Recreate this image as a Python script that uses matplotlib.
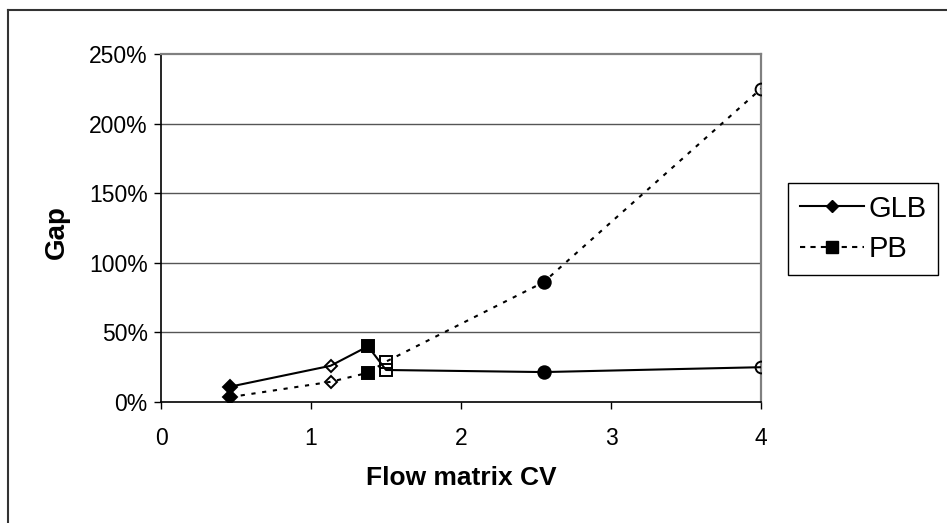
import matplotlib
matplotlib.use("Agg")
import matplotlib.pyplot as plt
from matplotlib.lines import Line2D
from matplotlib.ticker import FuncFormatter

plt.rcParams['font.family'] = ['Liberation Sans', 'DejaVu Sans']

# data
flow_cv = [0.46, 1.13, 1.38, 1.50, 2.55, 4.0]
glb_gap = [11, 26, 40, 23, 21.5, 25]
pb_gap = [3.5, 14.5, 21, 29, 86, 225]
series_names = ['GLB', 'PB']
x_ticks = [0, 1, 2, 3, 4]
y_ticks = [0, 50, 100, 150, 200, 250]

# per-point marker styles (same for both series)
markers = ['D', 'D', 's', 's', 'o', 'o']
filled = [True, False, True, False, True, False]

W, H = 947, 523
fig = plt.figure(figsize=(W / 100, H / 100), dpi=100)

# outer chart border, only top and left are inside the cropped image
fig.add_artist(Line2D([8 / W, 1], [1 - 10 / H, 1 - 10 / H], transform=fig.transFigure,
                      color='#333333', linewidth=1.5))
fig.add_artist(Line2D([8 / W, 8 / W], [0, 1 - 10 / H], transform=fig.transFigure,
                      color='#333333', linewidth=1.5))

ax = fig.add_axes([161 / W, 1 - 402 / H, 600 / W, 348 / H])

lw = 1.5
dash = (0, (2, 3.2))
ax.plot(flow_cv, glb_gap, color='black', linewidth=lw, zorder=3)
ax.plot(flow_cv, pb_gap, color='black', linewidth=lw, linestyle=dash, zorder=3)

sizes_filled = {'D': 7.5, 's': 8.5, 'o': 9}
sizes_hollow = {'D': 6.3, 's': 8.3, 'o': 8.5}
for yvals in (glb_gap, pb_gap):
    for x, y, m, f in zip(flow_cv, yvals, markers, filled):
        size = sizes_filled[m] if f else sizes_hollow[m]
        ax.plot([x], [y], marker=m, markersize=size, linestyle='none',
                markerfacecolor='black' if f else 'none',
                markeredgecolor='black', markeredgewidth=1.4, zorder=4)

ax.set_xlim(0, 4)
ax.set_ylim(0, 250)
ax.set_xticks(x_ticks)
ax.set_yticks(y_ticks)
ax.yaxis.set_major_formatter(FuncFormatter(lambda v, p: f'{v:.0f}%'))

for yv in y_ticks[1:-1]:
    ax.axhline(yv, color='#555555', linewidth=1, zorder=1)

for s in ('left', 'bottom'):
    ax.spines[s].set_color('black')
    ax.spines[s].set_linewidth(1.2)
for s in ('top', 'right'):
    ax.spines[s].set_color('#808080')
    ax.spines[s].set_linewidth(1.6)

ax.tick_params(axis='both', direction='out', length=5, width=1, color='black',
               labelsize=16.5)
ax.tick_params(axis='y', pad=4.5)
ax.tick_params(axis='x', pad=13)

fig.text(461 / W, 1 - 478 / H, 'Flow matrix CV', fontsize=19, fontweight='bold',
         ha='center', va='center')
fig.text(57 / W, 1 - 232 / H, 'Gap', fontsize=20, fontweight='bold',
         ha='center', va='center', rotation=90)

handles = [
    Line2D([], [], color='black', linewidth=lw, marker='D', markersize=6.5),
    Line2D([], [], color='black', linewidth=lw, linestyle=(0, (2.5, 2.5)),
           marker='s', markersize=8),
]
leg = fig.legend(handles, series_names, loc='upper left',
                 bbox_to_anchor=(788 / W, 1 - 183 / H), fontsize=21,
                 frameon=True, fancybox=False, edgecolor='black', framealpha=1,
                 handlelength=2.2, handletextpad=0.15, borderpad=0.4,
                 labelspacing=0.42, borderaxespad=0)
leg.get_frame().set_linewidth(1)

fig.savefig('out.png', dpi=100)
